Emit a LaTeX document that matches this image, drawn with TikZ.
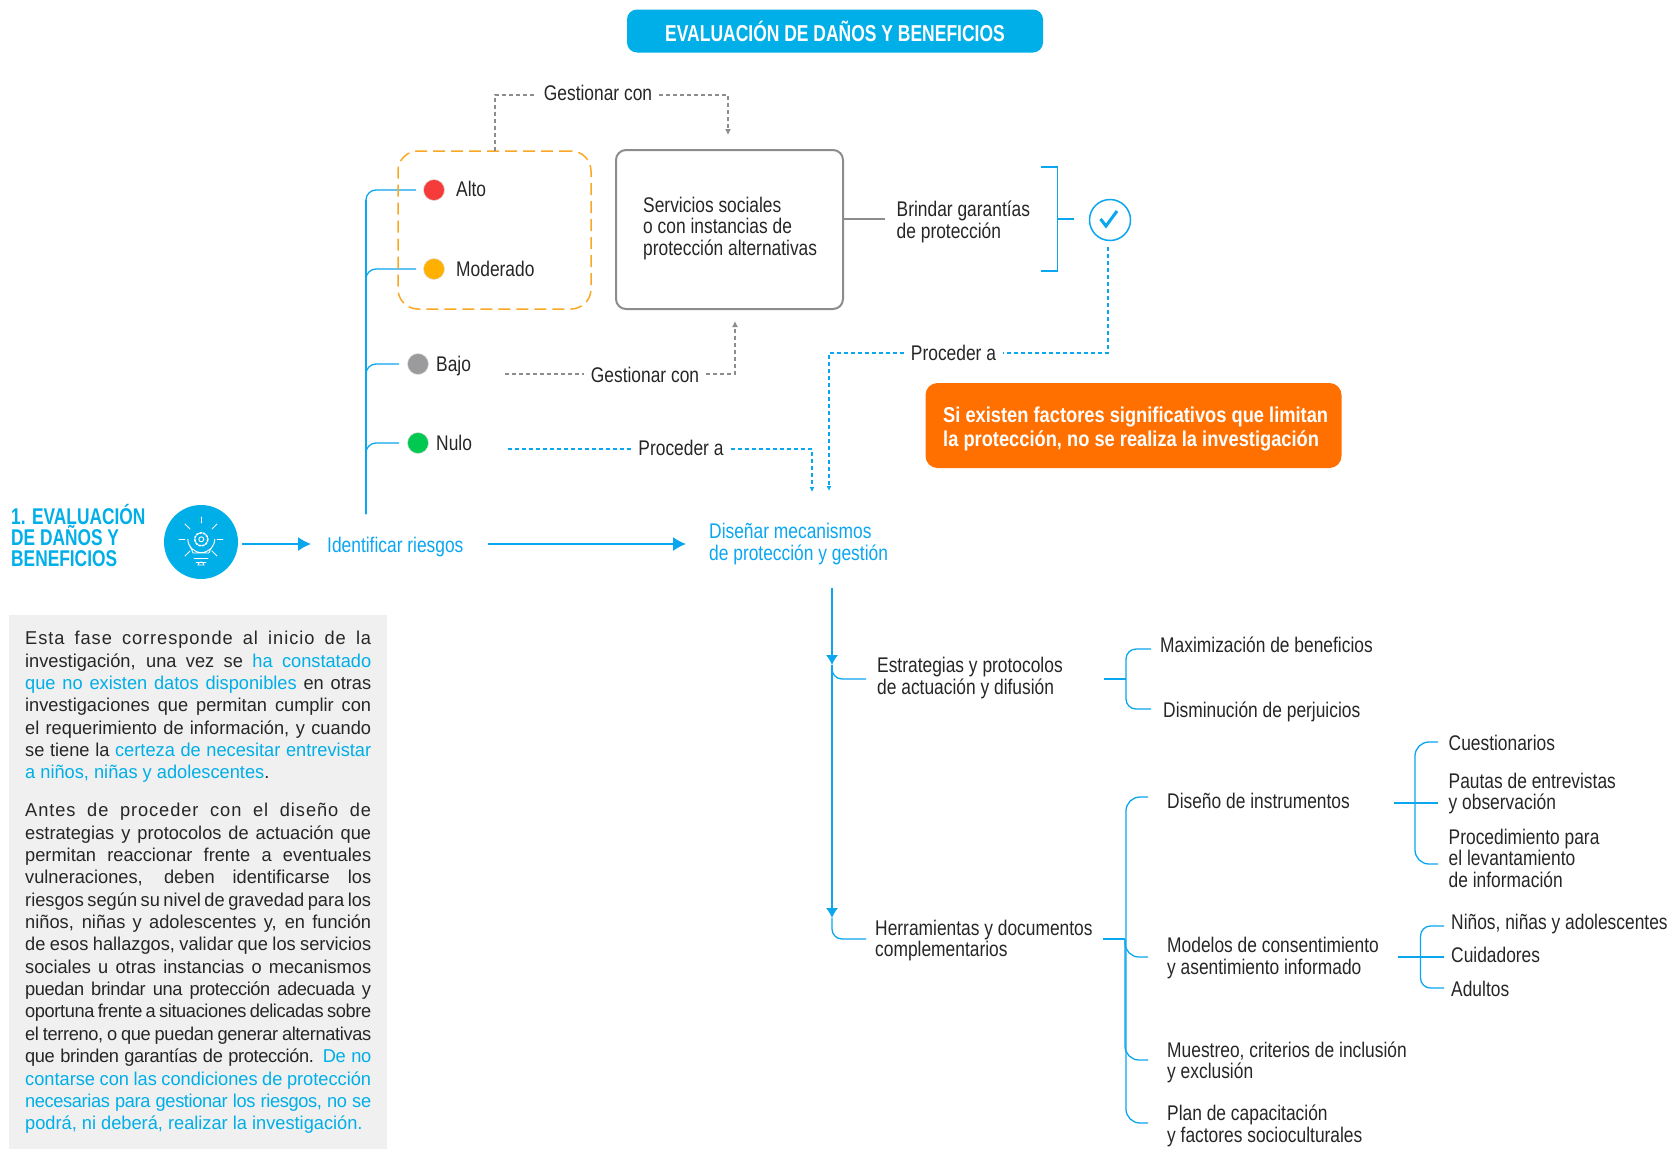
\documentclass[tikz,border=0pt]{standalone}
\usepackage{fontspec}
\setmainfont[FakeStretch=0.82]{Liberation Sans}
\newfontfamily\fontbox[FakeStretch=0.98]{Liberation Sans}
\newfontfamily\fontancha[FakeStretch=0.98,LetterSpace=5]{Liberation Sans}
\newfontfamily\fontjusta[FakeStretch=0.98,LetterSpace=-2]{Liberation Sans}
\newfontfamily\fontaviso[FakeStretch=0.85]{Liberation Sans}
\newfontfamily\fonttitulo[FakeStretch=0.76]{Liberation Sans}
\usetikzlibrary{arrows.meta}

\definecolor{celeste}{HTML}{00AEE8}
\definecolor{linea}{HTML}{0AA6F0}
\definecolor{gris}{HTML}{8C8C8C}
\definecolor{tinta}{HTML}{262626}
\definecolor{naranja}{HTML}{FF7000}
\definecolor{ambar}{HTML}{F9A825}
\definecolor{fondo}{HTML}{F0F0F0}

\newcommand{\renglon}[1]{\hbox to 346pt{\spaceskip=4.6pt plus 20pt minus 2pt #1}}

\tikzset{
  texto/.style={anchor=west, inner sep=0pt, align=left, text=tinta,
    font=\fontsize{21.2}{21.5}\selectfont},
  etiqueta/.style={inner xsep=7pt, inner ysep=0pt, text=tinta,
    font=\fontsize{21.2}{21.5}\selectfont},
  parrafo/.style={anchor=north west, inner sep=0pt, align=left, text=tinta,
    font=\fontbox\fontsize{18.6}{22.36}\selectfont},
  riesgo/.style={circle, minimum size=21pt, inner sep=0pt, draw=black!12, line width=0.5pt},
  rama/.style={draw=linea, line width=1.3pt, rounded corners=10pt},
  tronco/.style={draw=linea, line width=2pt, rounded corners=10pt},
  flecha/.style={draw=linea, line width=1.3pt, -{Latex[length=13pt,width=14pt]}},
  flechita/.style={draw=linea, line width=1.3pt, -{Latex[length=10pt,width=12pt]}},
  guiazul/.style={draw=linea, line width=1.2pt, dash pattern=on 4pt off 3pt, -{Latex[length=5pt,width=5pt]}},
  guigris/.style={draw=gris, line width=1.2pt, dash pattern=on 4pt off 3pt, -{Latex[length=6pt,width=6pt]}},
  bombilla/.style={draw=white, line width=0.9pt, line cap=round},
}

\begin{document}
\begin{tikzpicture}[x=1pt, y=-1pt]
\useasboundingbox (0,0) rectangle (1668,1149);

% title
\node[rectangle,
    rounded corners = 10pt,
    fill = celeste,
    text = white,
    minimum width = 416pt,
    minimum height = 43pt,
    font = \fonttitulo\fontsize{23}{26}\selectfont\bfseries] (titulo) at (835,31) {EVALUACIÓN DE DAÑOS Y BENEFICIOS};

% left column
\node[anchor = west,
    inner sep = 0pt,
    align = left,
    text = celeste,
    font = \fonttitulo\fontsize{22.8}{21.3}\selectfont\bfseries] (fase) at (11,535.5) {1. EVALUACIÓN\\DE DAÑOS Y\\BENEFICIOS};
\node[circle,
    fill = celeste,
    minimum size = 74pt,
    inner sep = 0pt] (icono) at (201,542) {};

\draw[bombilla] (193,553) .. controls (192,548) and (187.8,546) .. (187.8,539) arc (180:0:13.5) .. controls (214.8,546) and (210,548) .. (209,553) -- cycle;
\draw[bombilla] (201.3,539.3) circle (2.5);
\draw[bombilla, dash pattern=on 2pt off 1.6pt, line width=1.6pt] (201.3,539.3) circle (6.5);
\draw[bombilla] (194,558) -- (208,558);
\draw[bombilla] (196,562) -- (206,562);
\draw[bombilla] (198,565) arc (180:360:3) -- cycle;
\draw[bombilla] (201,517) -- (201,523);
\draw[bombilla] (185,524) -- (190,529);
\draw[bombilla] (217,524) -- (212,529);
\draw[bombilla] (179,539) -- (185,539);
\draw[bombilla] (217,539) -- (223,539);
\draw[bombilla] (185,556) -- (190,551);
\draw[bombilla] (217,556) -- (212,551);

\node[texto, text = linea] (identificar) at (327,547) {Identificar riesgos};
\node[texto, text = linea] (disenar) at (709,544) {Diseñar mecanismos\\de protección y gestión};

\coordinate (salida) at (242,544);
\coordinate (llegada) at (311,544);
\coordinate (salidaB) at (488,544);
\coordinate (llegadaB) at (686,544);
\draw[flecha] (salida) -- (llegada);
\draw[flecha] (salidaB) -- (llegadaB);

% risk levels
\node[riesgo, fill = {rgb,255:red,246;green,60;blue,58}] (alto) at (434,190) {};
\node[riesgo, fill = {rgb,255:red,255;green,176;blue,0}] (moderado) at (434,269) {};
\node[riesgo, fill = {rgb,255:red,155;green,155;blue,158}] (bajo) at (418,364) {};
\node[riesgo, fill = {rgb,255:red,0;green,200;blue,80}] (nulo) at (418,443) {};

\node[texto] (altot) at (456,188.5) {Alto};
\node[texto] (moderadot) at (456,268.5) {Moderado};
\node[texto] (bajot) at (436,366) {Bajo};
\node[texto] (nulot) at (436,442.5) {Nulo};

\coordinate (raiz) at (366,514);
\coordinate (ralto) at (416,190);
\coordinate (rmoderado) at (416,269);
\coordinate (rbajo) at (399,364);
\coordinate (rnulo) at (399,443);
\draw[tronco] (raiz) -- (366,200);
\draw[rama] (raiz) |- (ralto);
\draw[rama] (raiz) |- (rmoderado);
\draw[rama] (raiz) |- (rbajo);
\draw[rama] (raiz) |- (rnulo);

\node[rectangle,
    draw = ambar,
    line width = 1.5pt,
    dash pattern = on 12pt off 6pt,
    rounded corners = 20pt,
    minimum width = 193pt,
    minimum height = 158pt] (grupo) at (494.5,230) {};

\node[rectangle,
    draw = gris,
    line width = 2pt,
    rounded corners = 10pt,
    minimum width = 227pt,
    minimum height = 159pt] (servicios) at (729.5,229.5) {};
\node[texto] (serviciost) at (643,228.5) {Servicios sociales\\o con instancias de\\protección alternativas};

% dashed links
\node[etiqueta] (gestionA) at (598,93) {Gestionar con};
\node[etiqueta] (gestionB) at (645,374.5) {Gestionar con};
\node[etiqueta] (procederA) at (681,448) {Proceder a};
\node[etiqueta] (procederB) at (953.5,353) {Proceder a};

\coordinate (sgrupo) at (495,151);
\coordinate (eservicios) at (728,135);
\coordinate (sbajo) at (505,374);
\coordinate (iservicios) at (735,321);
\coordinate (snulo) at (508,449);
\coordinate (adisenar) at (812,492);
\coordinate (scheck) at (1108,247);
\coordinate (bdisenar) at (829,491);

\draw[guigris, -] (sgrupo) |- (gestionA.west |- 0,95);
\draw[guigris] (gestionA.east |- 0,95) -| (eservicios);
\draw[guigris, -] (sbajo) -- (gestionB.west |- sbajo);
\draw[guigris] (gestionB.east |- sbajo) -| (iservicios);
\draw[guiazul, -] (snulo) -- (procederA.west |- snulo);
\draw[guiazul] (procederA.east |- snulo) -| (adisenar);
\draw[guiazul, -] (scheck) |- (procederB.east);
\draw[guiazul] (procederB.west) -| (bdisenar);

% guarantees
\node[texto] (brindar) at (896.5,222) {Brindar garantías\\de protección};
\coordinate (sbrindar) at (885,219);
\draw[draw = gris, line width = 1.6pt] (servicios.east |- sbrindar) -- (sbrindar);

\coordinate (barriba) at (1041,167);
\coordinate (babajo) at (1041,271);
\coordinate (bcentro) at (1057.5,219);
\coordinate (btick) at (1074,219);
\draw[rama, rounded corners = 0pt] (barriba) -| (bcentro) |- (babajo);
\draw[rama] (bcentro) -- (btick);

\node[circle,
    draw = linea,
    line width = 1.5pt,
    minimum size = 41pt,
    inner sep = 0pt] (check) at (1110,220) {};
\draw[draw = linea, line width = 3pt] (1100.5,219) -- (1106,226) -- (1117,211);

\node[rectangle,
    fill = naranja,
    rounded corners = 12pt,
    minimum width = 416pt,
    minimum height = 85pt] (aviso) at (1133.5,425.5) {};
\node[anchor = west,
    inner sep = 0pt,
    align = left,
    text = white,
    font = \fontaviso\fontsize{21.5}{24}\selectfont\bfseries] (avisot) at (943,429) {Si existen factores significativos que limitan\\la protección, no se realiza la investigación};

% lower tree
\coordinate (inicio) at (832,588);
\coordinate (flechaA) at (832,665);
\coordinate (flechaB) at (832,918);
\coordinate (restrategias) at (866,679);
\coordinate (rherramientas) at (866,939);
\draw[flechita] (inicio) -- (flechaA);
\draw[flechita] (flechaA) -- (flechaB);
\draw[rama] (flechaA) |- (restrategias);
\draw[rama] (flechaB) |- (rherramientas);

\node[texto] (estrategias) at (877,678) {Estrategias y protocolos\\de actuación y difusión};
\node[texto] (herramientas) at (875,940.5) {Herramientas y documentos\\complementarios};

\node[texto] (maximizacion) at (1160,645) {Maximización de beneficios};
\node[texto] (disminucion) at (1163,711.5) {Disminución de perjuicios};
\coordinate (lmax) at (1151,649);
\coordinate (ldis) at (1151,709);
\coordinate (cestrategias) at (1126,679);
\coordinate (sestrategias) at (1104,679);
\draw[rama] (lmax) -| (cestrategias) |- (ldis);
\draw[rama] (sestrategias) -- (cestrategias);

\node[texto] (diseno) at (1167,801) {Diseño de instrumentos};
\node[texto] (modelos) at (1167,958) {Modelos de consentimiento\\y asentimiento informado};
\node[texto] (muestreo) at (1167,1062.5) {Muestreo, criterios de inclusión\\y exclusión};
\node[texto] (plan) at (1167,1126) {Plan de capacitación\\y factores socioculturales};
\coordinate (ldiseno) at (1148,797);
\coordinate (lmodelos) at (1148,957);
\coordinate (lmuestreo) at (1148,1060);
\coordinate (lplan) at (1148,1123);
\coordinate (cherramientas) at (1125,939);
\coordinate (sherramientas) at (1103,939);
\draw[rama, rounded corners = 14pt] (ldiseno) -| (1126,939) |- (lplan);
\draw[rama, rounded corners = 14pt] (cherramientas) |- (lmodelos);
\draw[rama, rounded corners = 14pt] (cherramientas) |- (lmuestreo);
\draw[rama] (sherramientas) -- (cherramientas);

\node[texto] (cuestionarios) at (1448.5,743) {Cuestionarios};
\node[texto] (pautas) at (1448.5,793.5) {Pautas de entrevistas\\y observación};
\node[texto] (procedimiento) at (1448.5,858) {Procedimiento para\\el levantamiento\\de información};
\coordinate (lcuestionarios) at (1438,742);
\coordinate (lprocedimiento) at (1438,864);
\coordinate (cdiseno) at (1415,803);
\coordinate (sdiseno) at (1394,803);
\coordinate (ediseno) at (1438,803);
\draw[rama, rounded corners = 14pt] (lcuestionarios) -| (cdiseno) |- (lprocedimiento);
\draw[rama] (sdiseno) -- (ediseno);

\node[texto] (ninos) at (1451,924) {Niños, niñas y adolescentes};
\node[texto] (cuidadores) at (1451,955) {Cuidadores};
\node[texto] (adultos) at (1451,989) {Adultos};
\coordinate (lninos) at (1444,926);
\coordinate (ladultos) at (1444,988);
\coordinate (cmodelos) at (1420.5,957);
\coordinate (smodelos) at (1398,957);
\coordinate (emodelos) at (1444,957);
\draw[rama] (lninos) -| (cmodelos) |- (ladultos);
\draw[rama] (smodelos) -- (emodelos);

% grey text block
\node[rectangle,
    fill = fondo,
    minimum width = 378pt,
    minimum height = 534pt] (bloque) at (198,882) {};
\node[parrafo] (parrafouno) at (25,631) {\renglon{\fontancha Esta fase corresponde al inicio de la}\\
\renglon{investigación, una vez se \textcolor{celeste}{ha constatado}}\\
\renglon{\textcolor{celeste}{que no existen datos disponibles} en otras}\\
\renglon{investigaciones que permitan cumplir con}\\
\renglon{el requerimiento de información, y cuando}\\
\renglon{se tiene la \textcolor{celeste}{certeza de necesitar entrevistar}}\\
\textcolor{celeste}{a niños, niñas y adolescentes}.};
\node[parrafo] (parrafodos) at (25,803) {\renglon{\fontancha Antes de proceder con el diseño de}\\
\renglon{estrategias y protocolos de actuación que}\\
\renglon{permitan reaccionar frente a eventuales}\\
\renglon{vulneraciones, deben identificarse los}\\
\renglon{riesgos según su nivel de gravedad para los}\\
\renglon{niños, niñas y adolescentes y, en función}\\
\renglon{de esos hallazgos, validar que los servicios}\\
\renglon{sociales u otras instancias o mecanismos}\\
\renglon{\fontjusta puedan brindar una protección adecuada y}\\
\renglon{\fontjusta oportuna frente a situaciones delicadas sobre}\\
\renglon{\fontjusta el terreno, o que puedan generar alternativas}\\
\renglon{\fontjusta que brinden garantías de protección. \textcolor{celeste}{De no}}\\
\renglon{\textcolor{celeste}{contarse con las condiciones de protección}}\\
\renglon{\fontjusta\textcolor{celeste}{necesarias para gestionar los riesgos, no se}}\\
\textcolor{celeste}{podrá, ni deberá, realizar la investigación.}};
\end{tikzpicture}
\end{document}
